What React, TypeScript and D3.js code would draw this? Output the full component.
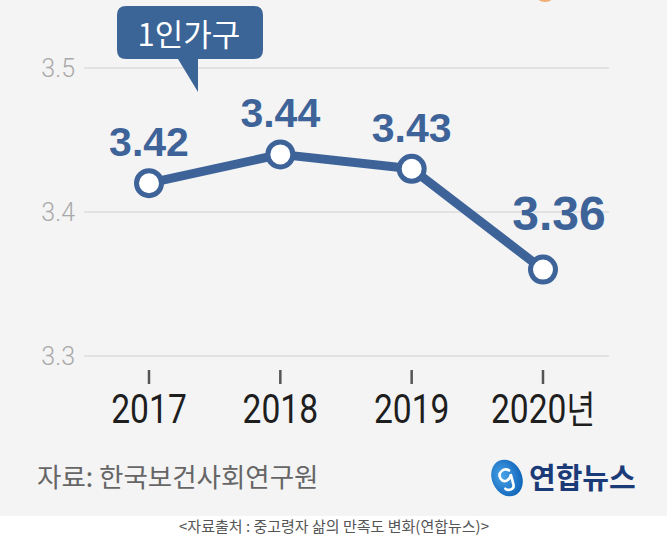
import React from "react";
import * as d3 from "d3";

const years = ["2017", "2018", "2019", "2020"];
const satisfaction = [3.42, 3.44, 3.43, 3.36];
const valueLabels = ["3.42", "3.44", "3.43", "3.36"];
const yTicks = [3.3, 3.4, 3.5];
const yearSuffix = "년";
const seriesName = "1인가구";
const sourceNote = "자료: 한국보건사회연구원";
const caption = "<자료출처 : 중고령자 삶의 만족도 변화(연합뉴스)>";

const W = 667;
const H = 549;
const BLUE = "#3d6399";
const KR = "'Noto Sans CJK KR', 'Noto Sans', sans-serif";

export default function App() {
  const x = d3.scalePoint<string>().domain(years).range([149, 543]).padding(0);
  const y = d3.scaleLinear().domain([3.3, 3.5]).range([356, 68]);

  const pts = years.map((yr, i) => ({ yr, v: satisfaction[i], label: valueLabels[i] }));
  const line = d3
    .line<{ yr: string; v: number }>()
    .x((d) => x(d.yr) as number)
    .y((d) => y(d.v));

  // label placement: the last point gets a larger, right-shifted value label
  const labelStyle = (i: number) =>
    i === pts.length - 1
      ? { dx: 16, dy: -40, size: 48 }
      : { dx: 0, dy: -27, size: 41 };

  return (
    <svg
      width={W}
      height={H}
      viewBox={`0 0 ${W} ${H}`}
      style={{ position: "fixed", left: 0, top: 0, display: "block" }}
    >
      <rect x={0} y={0} width={W} height={H} fill="#ffffff" />
      <rect x={0} y={0} width={W} height={516} fill="#f4f4f4" />

      {/* small orange mark at the top edge */}
      <circle cx={545} cy={-10} r={12} fill="#f2ad74" />

      {/* gridlines and y labels */}
      {yTicks.map((t) => (
        <g key={t}>
          <line x1={84} x2={609} y1={y(t)} y2={y(t)} stroke="#dcdcdc" strokeWidth={1.5} />
          <text
            x={75}
            y={y(t)}
            dy="0.36em"
            textAnchor="end"
            fontFamily="Roboto, sans-serif"
            fontWeight={300}
            fontSize={25}
            fill="#a9a9a9"
          >
            {d3.format(".1f")(t)}
          </text>
        </g>
      ))}

      {/* x ticks and labels */}
      {years.map((yr, i) => {
        const cx = x(yr) as number;
        const last = i === years.length - 1;
        return (
          <g key={yr}>
            <line x1={cx} x2={cx} y1={370} y2={384} stroke="#555" strokeWidth={2.5} />
            <text
              transform={`translate(${cx},423) scale(0.82,1)`}
              textAnchor="middle"
              fontFamily="Roboto, sans-serif"
              fontWeight={400}
              fontSize={41}
              fill="#1e1e1e"
            >
              {yr}
              {last && (
                <tspan fontFamily={KR} fontWeight={400} fontSize={38}>
                  {yearSuffix}
                </tspan>
              )}
            </text>
          </g>
        );
      })}

      {/* series line */}
      <path d={line(pts) || ""} fill="none" stroke={BLUE} strokeWidth={9} strokeLinejoin="round" />
      {pts.map((p) => (
        <circle
          key={p.yr}
          cx={x(p.yr) as number}
          cy={y(p.v)}
          r={12.5}
          fill="#ffffff"
          stroke={BLUE}
          strokeWidth={5}
        />
      ))}
      {pts.map((p, i) => {
        const s = labelStyle(i);
        return (
          <text
            key={`l${p.yr}`}
            x={(x(p.yr) as number) + s.dx}
            y={y(p.v) + s.dy}
            textAnchor="middle"
            fontFamily="'Liberation Sans', Arial, sans-serif"
            fontWeight={700}
            fontSize={s.size}
            fill={BLUE}
          >
            {p.label}
          </text>
        );
      })}

      {/* callout bubble */}
      <path
        d="M126,6 H254 Q263,6 263,15 V50 Q263,59 254,59 H198 V92 L178,59 H126 Q117,59 117,50 V15 Q117,6 126,6 Z"
        fill="#3b6497"
      />
      <text
        x={189}
        y={46}
        textAnchor="middle"
        fontFamily={KR}
        fontWeight={400}
        fontSize={31}
        fill="#ffffff"
      >
        {seriesName}
      </text>

      {/* source */}
      <text x={37} y={487} fontFamily={KR} fontSize={26.5} fill="#666666">
        {sourceNote}
      </text>

      {/* logo */}
      <defs>
        <radialGradient id="logoGrad" cx="0.4" cy="0.4" r="0.7">
          <stop offset="0" stopColor="#4aa3e8" />
          <stop offset="1" stopColor="#0b5fb5" />
        </radialGradient>
      </defs>
      <g transform="translate(507,478) rotate(-25)">
        <ellipse cx={0} cy={0} rx={15} ry={19} fill="url(#logoGrad)" />
        <path
          d="M5,-6 C2,-11 -7,-9 -6,-2 C-5,4 3,3 5,-2 L3,9 C2,13 -4,13 -6,9"
          fill="none"
          stroke="#ffffff"
          strokeWidth={2.6}
          strokeLinecap="round"
        />
      </g>
      <text x={529} y={489} fontFamily={KR} fontWeight={700} fontSize={29} fill="#1b3a78">
        연합뉴스
      </text>

      {/* caption */}
      <text x={334} y={532} textAnchor="middle" fontFamily={KR} fontSize={15} fill="#555555">
        {caption}
      </text>
    </svg>
  );
}
